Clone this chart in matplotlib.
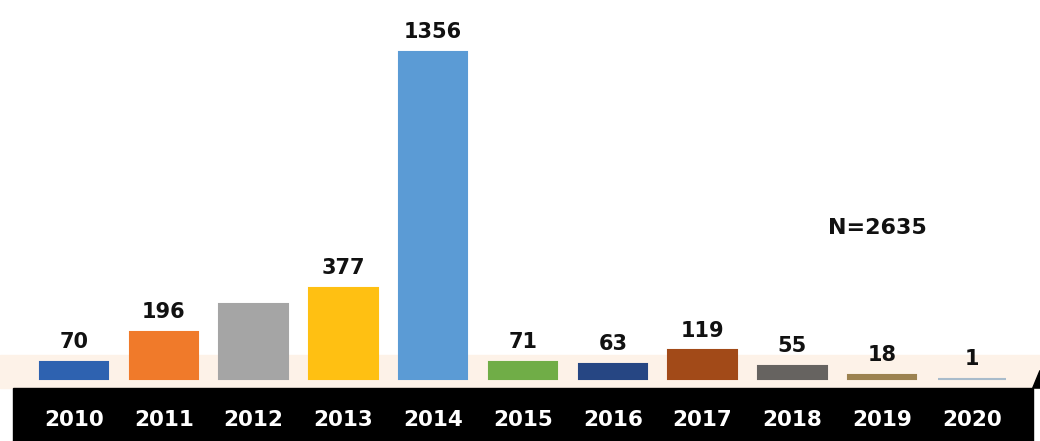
import matplotlib.pyplot as plt
from matplotlib.patches import Rectangle, Polygon

years = ['2010', '2011', '2012', '2013', '2014', '2015', '2016', '2017', '2018', '2019', '2020']
counts = [70, 196, 309, 377, 1356, 71, 63, 119, 55, 18, 1]
shown = ['70', '196', '', '377', '1356', '71', '63', '119', '55', '18', '1']
colors = ['#2E62B0', '#F07A2A', '#A5A5A5', '#FFC012', '#5B9BD5', '#70AD47',
          '#264683', '#A24A18', '#666360', '#9C8250', '#A9BCCB']
total_label = 'N=2635'

fig = plt.figure(figsize=(10.4, 4.41), dpi=100)
ax = fig.add_axes([0, 0, 1, 1])

# bands at the bottom
ax.add_patch(Rectangle((0, 0.120), 1, 0.075, transform=ax.transAxes,
                       color='#FDF2E8', zorder=0))
ax.add_patch(Rectangle((0.0125, 0), 0.981, 0.120, transform=ax.transAxes,
                       color='black', zorder=1))
ax.add_patch(Polygon([(0.993, 0.120), (1.0, 0.16), (1.0, 0.120)],
                     transform=ax.transAxes, color='black', zorder=1))

x = range(len(years))
ax.bar(x, counts, width=0.76, color=colors, edgecolor=colors, linewidth=1.5, zorder=2)

for i, (v, s) in enumerate(zip(counts, shown)):
    if s:
        ax.annotate(s, (i, v), xytext=(0, 7), textcoords='offset points',
                    ha='center', va='bottom', fontsize=15, fontweight='bold',
                    color='#111111')
    ax.text(i, 0.048, years[i], transform=ax.get_xaxis_transform(),
            ha='center', va='center', color='white', fontsize=15.5,
            fontweight='bold')

ax.text(8.95, 626, total_label, ha='center', va='center', fontsize=16,
        fontweight='bold', color='#111111')

ax.set_xlim(-0.824, 10.757)
ax.set_ylim(-257, 1571.5)
ax.axis('off')

plt.savefig('out.png', dpi=100)
